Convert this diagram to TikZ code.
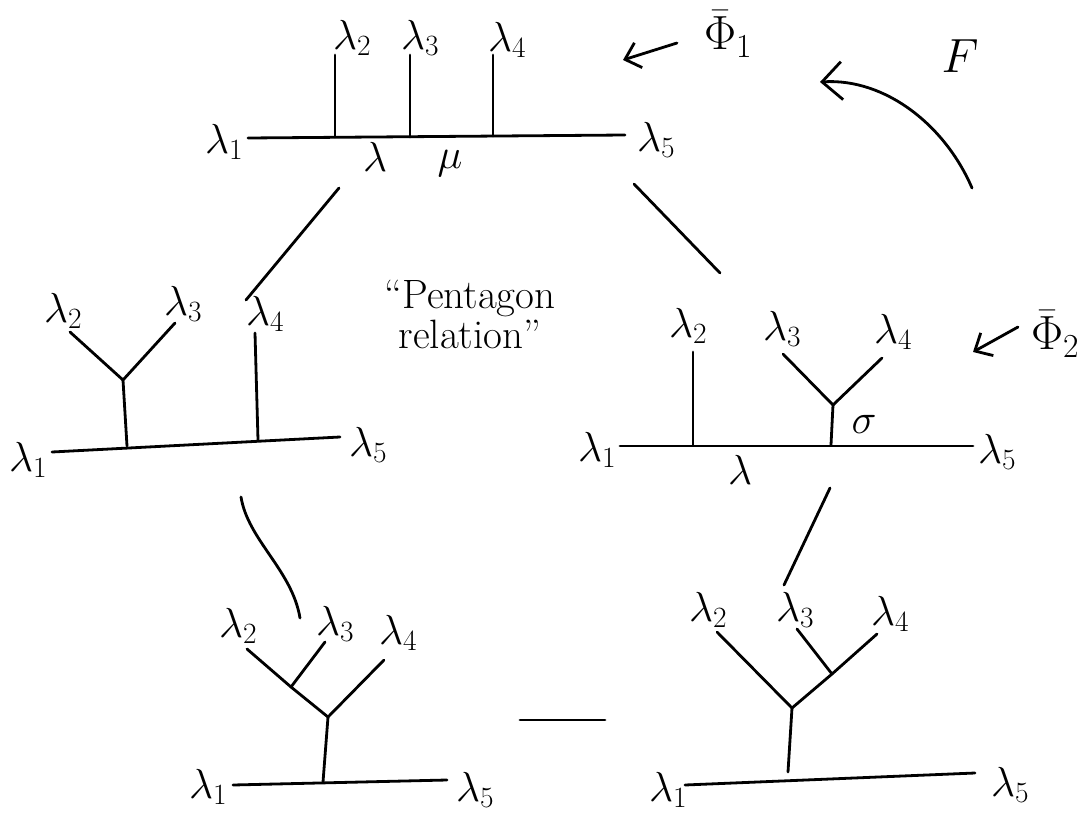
\RequirePackage{fix-cm}
\documentclass[tikz,border=0pt]{standalone}
\usetikzlibrary{arrows.meta}
\begin{document}
\begin{tikzpicture}[x=1pt,y=-1pt,
  edge/.style={line width=2.8pt, line cap=round, line join=round},
  lab/.style={font=\fontsize{42}{46}\selectfont, inner sep=0pt},
  big/.style={font=\fontsize{48}{52}\selectfont, inner sep=0pt},
  txt/.style={font=\fontsize{41}{44}\selectfont, inner sep=0pt, align=center},
  barb/.style={-{Straight Barb[length=14pt,width=26pt]}}]
\useasboundingbox (0,0) rectangle (1085,814);

% ---------- top diagram ----------
\coordinate (aL) at (248,138); \coordinate (aR) at (625,135);
\coordinate (aj2) at (335,137); \coordinate (at2) at (335,55);
\coordinate (aj3) at (410,137); \coordinate (at3) at (410,55);
\coordinate (aj4) at (493,136); \coordinate (at4) at (493,55);
\draw[edge] (aL) -- (aR);
\draw[edge] (aj2) -- (at2);
\draw[edge] (aj3) -- (at3);
\draw[edge] (aj4) -- (at4);
\node[lab] (a1) at (224,142) {$\lambda_1$};
\node[lab] (a2) at (352,38) {$\lambda_2$};
\node[lab] (a3) at (420,38) {$\lambda_3$};
\node[lab] (a4) at (507,40) {$\lambda_4$};
\node[lab] (a5) at (656,140) {$\lambda_5$};
\node[lab] (alam) at (375,157) {$\lambda$};
\node[lab] (amu) at (450,164) {$\mu$};

% Phi_1 arrow
\node[big] (phi1) at (728,34) {$\bar{\Phi}_1$};
\coordinate (p1s) at (677,43); \coordinate (p1e) at (623,60);
\draw[edge,barb] (p1s) -- (p1e);

% F arrow
\node[big] (F) at (960,56) {$F$};
\coordinate (fs) at (972,188); \coordinate (fe) at (820,82);
\draw[edge,-{Straight Barb[length=20pt,width=38pt]}] (fs) .. controls (945,125) and (885,78) .. (fe);

% ---------- left middle ----------
\coordinate (bL) at (52,452); \coordinate (bR) at (340,437);
\coordinate (bY) at (123,380); \coordinate (bYb) at (127,446);
\coordinate (bl2) at (70,332); \coordinate (bl3) at (175,323);
\coordinate (b4t) at (255,333); \coordinate (b4b) at (258,440);
\draw[edge] (bL) -- (bR);
\draw[edge] (bl2) -- (bY) -- (bl3);
\draw[edge] (bY) -- (bYb);
\draw[edge] (b4t) -- (b4b);
\node[lab] (b1) at (28,460) {$\lambda_1$};
\node[lab] (b2) at (63,311) {$\lambda_2$};
\node[lab] (b3) at (183,304) {$\lambda_3$};
\node[lab] (b4) at (265,314) {$\lambda_4$};
\node[lab] (b5) at (368,445) {$\lambda_5$};

% ---------- text ----------
\node[txt] (pent) at (470,314) {``Pentagon\\[-4pt] relation''};

% ---------- right middle ----------
\coordinate (cL) at (620,446); \coordinate (cR) at (973,446);
\coordinate (c2t) at (693,352); \coordinate (c2b) at (693,445);
\coordinate (cY) at (833,405); \coordinate (cYb) at (831,445);
\coordinate (cl3) at (783,354); \coordinate (cl4) at (882,358);
\draw[edge] (cL) -- (cR);
\draw[edge] (c2t) -- (c2b);
\draw[edge] (cl3) -- (cY) -- (cl4);
\draw[edge] (cY) -- (cYb);
\node[lab] (c1) at (597,450) {$\lambda_1$};
\node[lab] (c2) at (688,326) {$\lambda_2$};
\node[lab] (c3) at (782,329) {$\lambda_3$};
\node[lab] (c4) at (893,332) {$\lambda_4$};
\node[lab] (c5) at (997,452) {$\lambda_5$};
\node[lab] (csig) at (864,424) {$\sigma$};
\node[lab] (clam) at (740,470) {$\lambda$};

% Phi_2 arrow
\node[big] (phi2) at (1055,334) {$\bar{\Phi}_2$};
\coordinate (p2s) at (1018,327); \coordinate (p2e) at (973,352);
\draw[edge,barb] (p2s) -- (p2e);

% ---------- bottom left ----------
\coordinate (dL) at (233,785); \coordinate (dR) at (447,780);
\coordinate (dYb) at (323,782); \coordinate (dY) at (328,717);
\coordinate (dm) at (291,687); \coordinate (dl2) at (247,649);
\coordinate (dl3) at (325,642); \coordinate (dl4) at (384,660);
\draw[edge] (dL) -- (dR);
\draw[edge] (dYb) -- (dY);
\draw[edge] (dY) -- (dm) -- (dl2);
\draw[edge] (dm) -- (dl3);
\draw[edge] (dY) -- (dl4);
\node[lab] (d1) at (208,787) {$\lambda_1$};
\node[lab] (d2) at (238,626) {$\lambda_2$};
\node[lab] (d3) at (335,624) {$\lambda_3$};
\node[lab] (d4) at (398,633) {$\lambda_4$};
\node[lab] (d5) at (475,790) {$\lambda_5$};

% minus
\coordinate (mL) at (520,720); \coordinate (mR) at (605,720);
\draw[edge] (mL) -- (mR);

% ---------- bottom right ----------
\coordinate (eL) at (685,785); \coordinate (eR) at (975,773);
\coordinate (eYb) at (788,772); \coordinate (eY) at (792,708);
\coordinate (el2) at (717,632); \coordinate (em) at (832,674);
\coordinate (el3) at (797,629); \coordinate (el4) at (877,634);
\draw[edge] (eL) -- (eR);
\draw[edge] (eYb) -- (eY);
\draw[edge] (eY) -- (el2);
\draw[edge] (eY) -- (em) -- (el4);
\draw[edge] (em) -- (el3);
\node[lab] (e1) at (668,790) {$\lambda_1$};
\node[lab] (e2) at (708,610) {$\lambda_2$};
\node[lab] (e3) at (795,610) {$\lambda_3$};
\node[lab] (e4) at (890,614) {$\lambda_4$};
\node[lab] (e5) at (1010,785) {$\lambda_5$};

% ---------- connectors between diagrams ----------
\coordinate (ab1) at (339,188); \coordinate (ab2) at (246,300);
\coordinate (ac1) at (634,184); \coordinate (ac2) at (720,273);
\coordinate (bd1) at (241,497); \coordinate (bd2) at (300,618);
\coordinate (ce1) at (830,488); \coordinate (ce2) at (784,585);
\draw[edge] (ab1) -- (ab2);
\draw[edge] (ac1) -- (ac2);
\draw[edge] (bd1) .. controls (248,540) and (292,570) .. (bd2);
\draw[edge] (ce1) -- (ce2);
\end{tikzpicture}
\end{document}
